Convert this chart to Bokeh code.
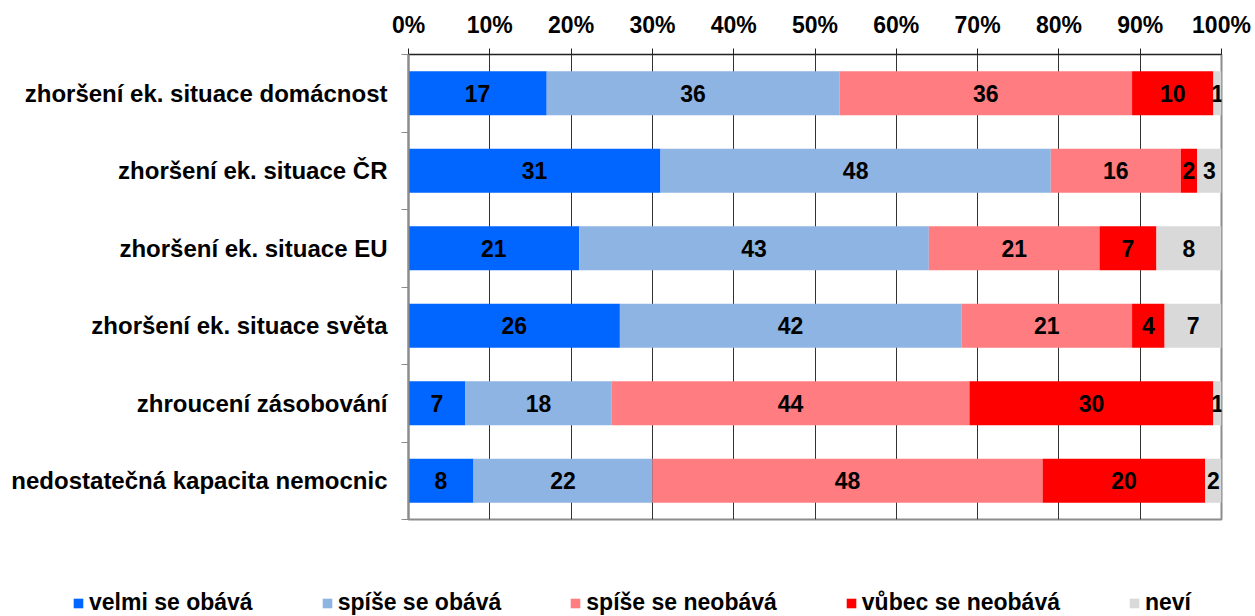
from bokeh.plotting import figure
from bokeh.models import (Range1d, FixedTicker, Legend, LegendItem,
                          ColumnDataSource)
from bokeh.core.properties import value
from bokeh.embed import file_html
from bokeh.resources import INLINE

categories = [
    "zhoršení ek. situace domácnost",
    "zhoršení ek. situace ČR",
    "zhoršení ek. situace EU",
    "zhoršení ek. situace světa",
    "zhroucení zásobování",
    "nedostatečná kapacita nemocnic",
]
series_names = ["velmi se obává", "spíše se obává", "spíše se neobává",
                "vůbec se neobává", "neví"]
velmi = [17, 31, 21, 26, 7, 8]
spise_obava = [36, 48, 43, 42, 18, 22]
spise_neobava = [36, 16, 21, 21, 44, 48]
vubec = [10, 2, 7, 4, 30, 20]
nevi = [1, 3, 8, 7, 1, 2]
colors = ["#0066FF", "#8EB4E3", "#FF7C80", "#FF0000", "#D9D9D9"]
x_ticks = [0, 10, 20, 30, 40, 50, 60, 70, 80, 90, 100]
x_tick_labels = ["0%", "10%", "20%", "30%", "40%", "50%", "60%", "70%",
                 "80%", "90%", "100%"]

series = [velmi, spise_obava, spise_neobava, vubec, nevi]
FONT = "Liberation Sans"
FS = "23px"

n = len(categories)
centers = [i + 0.5 for i in range(n)]
bounds = list(range(n + 1))

p = figure(width=1255, height=540, output_backend="svg", toolbar_location=None,
           x_range=Range1d(0, 100), y_range=Range1d(n, 0),
           x_axis_location="above", min_border_left=408, min_border_right=34,
           min_border_top=54, min_border_bottom=21)
p.background_fill_color = "white"
p.border_fill_color = "white"
p.outline_line_color = "#8C8C8C"
p.outline_line_width = 2

# top axis
xa = p.xaxis[0]
xa.ticker = FixedTicker(ticks=x_ticks)
xa.major_label_overrides = {t: l for t, l in zip(x_ticks, x_tick_labels)}
xa.axis_line_color = "#222222"
xa.axis_line_width = 1
xa.major_tick_line_color = "#222222"
xa.major_tick_out = 6
xa.major_tick_in = 0
xa.minor_tick_line_color = None
xa.major_label_standoff = 11
xa.major_label_text_font = FONT
xa.major_label_text_font_style = "bold"
xa.major_label_text_font_size = FS
xa.major_label_text_color = "black"

# left axis
ya = p.yaxis[0]
ya.ticker = FixedTicker(ticks=centers, minor_ticks=bounds)
ya.major_label_overrides = {c: cat for c, cat in zip(centers, categories)}
ya.major_tick_line_color = None
ya.major_tick_out = 0
ya.major_tick_in = 0
ya.minor_tick_line_color = "#8C8C8C"
ya.minor_tick_out = 7
ya.minor_tick_in = 0
ya.axis_line_color = "#8C8C8C"
ya.axis_line_width = 2
ya.major_label_standoff = 14
ya.major_label_text_font = FONT
ya.major_label_text_font_style = "bold"
ya.major_label_text_font_size = "24px"
ya.major_label_text_color = "black"

p.ygrid.grid_line_color = None
p.xgrid.ticker = FixedTicker(ticks=x_ticks[1:-1])
p.xgrid.grid_line_color = "#333333"
p.xgrid.grid_line_width = 1

lefts = [0.0] * n
label_x, label_y, label_t = [], [], []
for vals, col in zip(series, colors):
    rights = [l + v for l, v in zip(lefts, vals)]
    src = ColumnDataSource(dict(y=centers, left=lefts, right=rights))
    p.hbar(y="y", left="left", right="right", height=0.57, source=src,
           fill_color=col, line_color=None)
    for c, l, v in zip(centers, lefts, vals):
        label_x.append(l + v / 2)
        label_y.append(c)
        label_t.append(str(v))
    lefts = rights

p.text(x=label_x, y=label_y, text=label_t, text_align="center",
       text_baseline="middle", text_font=value(FONT), text_font_style="bold",
       text_font_size=FS, text_color="black")

# legend strip below the chart (separate root so its frame spans full width)
lg = figure(width=1255, height=76, output_backend="svg", toolbar_location=None,
            x_range=Range1d(0, 1), y_range=Range1d(0, 1),
            x_axis_location=None, y_axis_location=None,
            min_border_left=0, min_border_right=0, min_border_top=0,
            min_border_bottom=0)
lg.outline_line_color = None
lg.grid.grid_line_color = None
lg.background_fill_color = "white"
lg.border_fill_color = "white"
items = []
for nm, col in zip(series_names, colors):
    src = ColumnDataSource(dict(y=[-5.0], left=[-5.0], right=[-5.0]))
    r = lg.hbar(y="y", left="left", right="right", height=0.5, source=src,
                fill_color=col, line_color=None)
    items.append(LegendItem(label=nm, renderers=[r]))
legend = Legend(items=items, orientation="horizontal", location=(72, 0),
                glyph_width=12, glyph_height=12, label_standoff=5, spacing=68,
                padding=0, margin=0, border_line_color=None,
                background_fill_alpha=0,
                label_text_font=FONT, label_text_font_style="bold",
                label_text_font_size=FS, label_text_color="black")
lg.add_layout(legend, "center")

open("out.html", "w").write(file_html([p, lg], INLINE))
